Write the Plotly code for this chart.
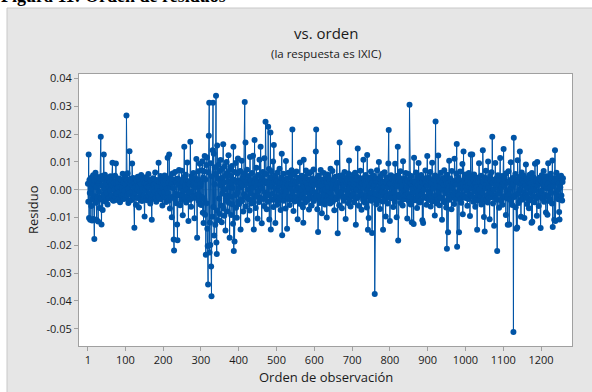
import numpy as np
import plotly.graph_objects as go

res_0001_0100 = [2.1,-4.3,12.7,-10.2,3.5,-1.2,-10.8,4.1,0.4,-5.9,
2.8,-11.1,4.6,-3.3,5.2,-10.5,1.9,-17.7,3.3,-2.4,
6.1,-4.7,0.9,-10.9,3.2,-2.8,4.6,-11.4,2.3,-0.7,
3.1,-6.6,4.0,-3.5,19.0,-2.9,-12.5,4.9,1.4,-7.3,
3.7,-1.8,12.7,-2.1,0.2,5.4,-4.2,2.6,-3.7,3.8,
-1.1,4.2,-5.3,1.6,4.3,-3.0,0.8,-3.1,2.9,-0.3,
4.8,-2.6,2.0,-2.2,3.4,9.7,-3.8,1.3,-4.0,2.5,
0.1,-2.7,5.0,-2.9,9.4,2.4,-1.5,3.3,-3.7,0.6,
2.8,-3.4,4.0,-0.9,2.9,-4.5,1.0,3.6,-2.0,3.6,
-2.4,0.5,5.7,-1.7,2.5,-3.3,4.1,-0.4,4.4,-3.1]

res_0101_0200 = [1.8,-2.6,26.7,3.4,-2.0,5.9,0.3,-4.8,2.7,-1.4,
13.8,2.2,-3.9,3.9,-0.8,3.1,-3.6,9.4,1.5,-2.3,
4.2,-2.7,0.7,-13.7,2.4,-1.0,3.8,-5.4,2.7,3.0,
-2.8,0.0,4.7,-3.0,1.2,-6.4,3.0,-0.6,2.9,-3.6,
2.1,5.3,-1.9,-4.1,3.5,0.4,-2.5,3.7,-2.1,1.7,
-9.6,2.3,-0.2,4.5,-3.2,2.0,-3.8,3.9,0.9,-2.5,
5.6,-2.2,1.1,2.6,-1.3,-5.0,2.8,3.2,-3.5,-10.8,
3.6,0.2,4.1,-2.4,1.9,-3.2,2.0,-0.7,6.2,-3.0,
2.3,-4.3,3.5,0.6,-1.6,3.2,-2.3,9.7,1.4,-2.9,
2.8,-0.5,4.9,-3.4,2.6,-1.1,3.7,-5.7,0.8,3.3]

res_0201_0300 = [-2.2,2.5,-0.9,5.1,-2.8,1.6,3.3,-4.4,0.3,3.9,
-3.1,11.5,-1.2,2.4,-3.9,12.7,3.8,-6.8,1.0,4.3,
-2.7,2.1,-9.9,2.9,5.8,-2.6,0.5,-17.9,-21.9,3.6,
-3.3,6.4,-1.5,3.0,-4.9,2.7,-12.5,-18.2,4.0,1.8,
-2.0,7.1,-2.0,3.4,-5.6,0.7,3.2,-3.7,6.8,-1.8,
2.5,-9.2,2.9,-0.4,4.6,15.4,-3.3,1.3,-2.9,5.4,
-4.6,3.1,0.1,9.8,-2.1,2.2,-11.3,3.0,-1.0,2.0,
-3.6,17.2,2.7,-6.1,4.8,-0.8,3.9,-3.0,1.5,6.0,
-2.4,2.6,-10.3,0.9,4.2,-2.4,2.1,11.0,-3.0,-17.3,
3.4,-1.7,6.6,-4.0,3.5,-2.3,9.3,-5.2,1.2,2.2]

res_0301_0400 = [-5.5,7.0,-2.6,10.2,-8.3,4.4,-12.0,6.5,-3.4,12.1,
-9.0,3.7,-23.4,8.9,-4.9,11.6,-14.0,-20.2,-34.1,6.3,
19.4,31.3,-22.6,-11.8,-19.9,9.5,-27.6,-38.3,4.8,-9.7,
14.2,31.3,-6.2,12.9,-16.5,2.0,8.1,-12.6,5.6,33.8,
-19.0,-23.1,15.9,-7.5,4.0,-10.9,9.0,-3.2,6.7,-8.7,
1.6,10.7,-5.7,3.2,-11.7,7.5,-1.4,4.3,16.3,-6.8,
2.6,-9.4,8.3,0.2,-14.7,5.1,-3.9,10.0,-2.1,6.0,
-7.8,3.0,12.4,-4.7,1.0,-17.3,7.2,-2.5,4.9,-9.1,
2.4,8.5,-5.2,0.6,-12.2,15.4,-22.0,3.6,-18.6,6.4,
-1.9,9.6,-6.5,2.8,-10.1,5.8,-0.9,11.2,-4.3,3.3]

res_0401_0500 = [-5.1,2.7,0.8,6.7,-14.3,2.3,-3.5,10.4,-4.1,1.4,
4.2,-7.8,3.9,-1.6,5.9,31.5,-2.2,17.0,-6.0,2.9,
-2.8,7.2,-11.0,2.1,0.0,4.9,-3.4,3.4,-7.5,11.8,
-1.3,3.3,-5.0,2.0,6.0,-3.8,0.7,12.2,-4.7,-14.3,
2.6,17.9,-2.2,4.1,-6.6,1.7,7.9,-2.5,3.0,-10.4,
5.3,-0.6,2.4,-4.4,10.8,-2.7,1.9,15.4,-3.1,3.6,
-12.1,4.6,0.4,6.4,-3.3,2.5,-5.9,11.3,-1.0,3.0,
24.4,-2.0,5.6,-7.0,2.2,2.8,-4.3,22.6,-2.0,7.4,
-10.7,3.2,4.3,20.6,-14.3,1.1,6.6,-3.6,2.0,-1.5,
10.1,-6.2,16.1,2.7,-3.6,5.0,-12.0,0.5,3.5,-2.6]

res_0501_0600 = [3.1,-5.4,6.2,-0.3,2.6,-3.9,1.3,7.5,-3.0,2.4,
-7.3,4.4,-1.8,12.9,-16.4,2.2,-2.3,5.7,-4.0,0.9,
3.8,-2.1,2.6,-6.8,10.3,-0.7,3.5,-14.0,4.0,1.6,
-3.3,6.1,-2.5,2.3,-5.5,0.3,4.8,-3.4,2.1,7.0,
-2.4,21.6,-1.2,3.1,-7.7,3.0,5.4,-4.2,1.8,-2.6,
2.7,-0.1,6.5,-3.0,2.9,-10.6,4.3,0.6,-3.8,3.4,
-1.4,9.8,-5.1,3.8,0.2,-2.9,5.0,-2.0,2.1,-6.3,
-11.9,10.8,1.2,-3.1,4.6,-4.6,2.7,6.9,-0.8,2.4,
-3.7,1.5,5.8,-3.5,0.4,-7.1,3.6,-1.9,3.4,6.3,
-2.7,2.0,-5.7,4.1,-0.5,2.9,-2.8,7.3,-4.1,1.7]

res_0601_0700 = [-3.2,3.7,-1.0,13.7,21.6,-2.3,3.1,-7.0,4.5,-15.2,
2.3,5.1,-2.4,0.8,-4.8,2.5,7.1,-3.7,1.4,-8.5,
3.2,-0.4,3.7,-3.5,6.0,-1.6,2.8,-5.3,4.0,0.1,
-3.9,2.8,-10.0,2.5,5.5,-2.1,1.0,-3.8,3.9,-0.9,
3.3,-5.0,7.5,-1.3,2.1,-2.6,0.6,6.7,-4.3,2.2,
-2.7,3.5,-7.4,3.9,0.3,4.7,-3.4,1.8,-3.2,9.7,
-0.6,-15.7,2.6,-2.2,4.9,-5.6,17.0,2.6,-2.0,3.0,
-1.1,3.6,-6.7,5.2,0.9,-3.0,2.3,-4.0,1.9,6.4,
-2.5,3.3,-10.5,2.9,-0.2,4.3,-2.8,3.2,-1.5,5.8,
-4.9,10.5,0.5,-3.6,2.7,-6.0,2.1,4.2,-2.0,3.8]

res_0701_0800 = [-2.4,1.1,5.4,-1.7,2.0,-4.5,2.7,6.1,-3.1,-12.6,
3.8,0.0,-3.0,4.6,14.8,-2.6,3.5,-5.8,1.6,3.4,
-0.8,6.8,-2.1,2.4,-7.2,2.2,-1.9,4.1,-3.6,10.8,
0.7,-3.3,2.9,-4.7,2.0,5.3,-2.3,3.0,-6.4,12.5,
-0.3,-14.4,3.6,-10.2,1.3,4.4,-2.5,3.7,-1.2,6.5,
-4.0,2.3,-15.6,2.4,0.8,-2.9,5.1,-3.3,1.7,-37.5,
3.3,-1.4,4.0,-5.2,2.8,7.0,-3.8,0.4,3.2,-3.9,
10.0,-2.0,3.9,-6.9,1.5,4.8,-2.2,2.5,-0.7,5.7,
-4.2,-14.4,2.7,1.0,-3.5,6.3,-1.0,3.0,-9.6,2.6,
4.5,-2.4,3.4,-5.0,0.9,9.4,21.5,-2.9,2.2,-11.3]

res_0801_0900 = [2.1,-1.3,5.2,-3.1,1.9,3.9,-3.0,0.6,-6.2,4.7,
-0.9,3.8,-4.4,9.3,2.0,-2.7,2.6,-9.9,1.2,5.0,
15.4,-18.3,3.1,-1.8,4.3,-2.7,2.4,6.6,-4.8,0.3,
2.9,-3.2,1.6,-5.7,10.2,-0.5,3.5,-3.4,4.1,-2.2,
2.9,6.0,-2.0,0.8,3.5,-10.4,3.3,-1.5,5.6,-4.1,
1.4,30.5,-2.6,2.4,-5.3,2.1,4.9,-11.7,0.2,3.0,
-3.4,3.0,-12.3,11.5,-1.1,2.8,-3.8,2.5,6.2,-2.9,
0.7,-6.6,4.4,1.8,-2.3,9.6,-0.4,3.6,-4.6,2.3,
1.0,-3.7,5.3,-1.6,2.7,-11.0,3.3,-12.0,3.9,0.1,
4.0,-2.9,2.3,6.9,-2.5,2.5,-5.4,1.5,12.1,-3.3]

res_0901_1000 = [2.6,-0.6,4.5,-3.7,3.2,-1.4,6.4,-6.0,1.1,2.7,
-3.0,9.7,-4.2,2.0,0.4,3.8,-2.4,3.4,-9.3,5.1,
24.5,-2.1,2.0,-4.9,1.3,4.6,-3.6,12.3,-0.8,3.1,
-5.6,3.2,0.9,-2.8,6.1,-3.0,2.4,-10.8,2.9,0.0,
4.2,-3.9,1.7,7.0,-4.5,3.7,-1.2,3.6,-6.4,2.2,
-21.2,5.4,-0.3,-15.3,2.3,-3.1,10.4,-3.6,1.5,4.0,
-2.0,3.0,-7.0,6.7,0.6,-2.8,3.1,-1.7,2.8,-5.1,
11.1,-0.9,2.5,-3.3,1.9,5.8,16.4,-20.5,3.6,-1.0,
4.4,-2.0,-15.3,3.4,0.3,6.5,-3.5,2.1,-4.7,2.1,
-1.8,9.2,-8.8,1.0,13.7,-2.4,3.7,-2.6,0.7,5.5]

res_1001_1100 = [-3.0,2.9,-0.2,4.1,-5.8,3.5,1.2,-3.3,6.0,-1.6,
2.6,-9.5,2.3,12.7,-2.1,0.5,4.8,12.7,-2.6,3.9,
-4.3,1.7,5.5,-0.7,2.2,-6.1,2.6,3.9,-3.8,0.9,
-14.4,4.3,-1.9,3.3,-3.9,9.5,0.2,-2.2,2.8,-2.3,
5.0,-5.3,1.4,3.0,-1.1,14.2,-3.5,2.7,-9.8,4.5,
-15.0,3.8,0.4,6.8,-3.4,2.0,-2.0,3.5,-4.6,10.1,
1.0,-3.0,2.4,-10.6,4.7,-0.5,3.2,-2.7,6.3,-1.3,
19.0,2.4,-5.0,2.9,0.1,-13.0,3.6,-2.2,9.6,-2.9,
1.8,4.0,-3.6,-22.0,3.0,5.2,-1.5,2.2,-6.5,3.3,
-0.1,11.4,-3.7,3.6,0.8,-3.9,4.9,-5.4,2.5,2.0]

res_1101_1200 = [14.6,-2.7,1.6,4.4,-2.3,3.1,-9.1,5.9,-0.6,2.5,
-3.2,-12.6,2.8,6.6,-1.8,-12.5,3.1,0.3,-3.4,9.9,
-4.0,3.7,1.1,-5.5,4.2,2.0,-51.2,18.7,-2.6,3.8,
-2.1,5.6,-6.3,3.4,-14.0,2.7,-13.6,10.6,-1.4,2.9,
-4.8,4.6,0.0,13.7,-3.7,2.1,-9.7,1.9,6.2,-2.5,
3.4,-3.5,2.3,5.0,-0.9,-10.2,2.6,1.3,-2.0,9.1,
-2.9,3.5,-5.1,4.0,0.6,-3.2,3.0,-6.7,2.6,5.4,
-1.2,2.3,-3.8,1.0,-11.9,6.0,-11.5,3.9,0.2,4.5,
-2.4,2.1,-4.5,9.3,-0.3,3.2,-3.1,3.7,-9.4,10.0,
1.6,-2.6,2.8,-5.9,2.7,4.3,-1.7,3.6,-13.8,3.2]

res_1201_1258 = [-0.4,5.2,-3.1,2.0,2.4,-3.0,6.7,-4.3,1.4,3.6,
-1.9,3.0,-8.2,4.8,0.5,-2.5,-9.0,2.0,9.5,-2.3,
2.5,-4.1,3.9,0.8,-3.6,5.7,-1.0,3.8,-5.0,10.5,
-13.4,2.2,1.2,4.1,-10.8,2.9,14.2,-11.3,3.3,-1.5,
6.1,-2.8,3.1,-0.2,4.4,-3.4,2.2,-8.0,-10.7,2.9,
0.9,-3.3,5.0,-2.1,3.7,-3.9,2.8,4.1]

y_tickvals = [0.04, 0.03, 0.02, 0.01, 0.00, -0.01, -0.02, -0.03, -0.04, -0.05]
y_ticktext = ["0.04", "0.03", "0.02", "0.01", "0.00", "-0.01", "-0.02", "-0.03", "-0.04", "-0.05"]
x_tickvals = [1, 100, 200, 300, 400, 500, 600, 700, 800, 900, 1000, 1100, 1200]
x_ticktext = [str(v) for v in x_tickvals]

blocks = [res_0001_0100, res_0101_0200, res_0201_0300, res_0301_0400, res_0401_0500,
          res_0501_0600, res_0601_0700, res_0701_0800, res_0801_0900, res_0901_1000,
          res_1001_1100, res_1101_1200, res_1201_1258]
residuo = np.concatenate([np.array(b, dtype=float) for b in blocks]) / 1000.0
orden = np.arange(1, len(residuo) + 1)

W, H = 592, 392
ML, MR, MT, MB = 79, 20, 74, 46
PW, PH = W - ML - MR, H - MT - MB

def px(xp):
    return (xp - ML) / PW

def py(yp):
    return (H - MB - yp) / PH

BLUE = "#0054A6"
FONT = "Open Sans"

fig = go.Figure()
fig.add_trace(go.Scatter(
    x=orden, y=residuo, mode="lines+markers",
    line=dict(color=BLUE, width=1),
    marker=dict(color=BLUE, size=6, line=dict(width=0)),
    hoverinfo="skip", showlegend=False,
))

shapes = [
    dict(type="line", xref="paper", yref="y", x0=0, x1=1, y0=0, y1=0,
         line=dict(color="#BDBDBD", width=1), layer="below"),
    dict(type="rect", xref="paper", yref="paper", x0=px(-5), x1=px(W + 5), y0=py(8), y1=py(-5),
         fillcolor="white", line=dict(width=0), layer="above"),
    dict(type="rect", xref="paper", yref="paper", x0=px(-5), x1=px(7), y0=py(H + 5), y1=py(-5),
         fillcolor="white", line=dict(width=0), layer="above"),
    dict(type="line", xref="paper", yref="paper", x0=px(7), x1=px(W + 5), y0=py(8), y1=py(8),
         line=dict(color="#C8C8C8", width=1), layer="above"),
    dict(type="line", xref="paper", yref="paper", x0=px(7), x1=px(7), y0=py(8), y1=py(H + 5),
         line=dict(color="#C8C8C8", width=1), layer="above"),
]

annotations = [
    dict(text="<b>Figura 11: Orden de residuos</b>", xref="paper", yref="paper",
         x=px(-1), y=py(-4), xanchor="left", yanchor="middle", showarrow=False,
         font=dict(family="Liberation Serif", size=18, color="black")),
    dict(text="vs. orden", xref="paper", yref="paper", x=0.5, y=py(33),
         xanchor="center", yanchor="middle", showarrow=False,
         font=dict(family=FONT, size=15, color="#1a1a1a")),
    dict(text="(la respuesta es IXIC)", xref="paper", yref="paper", x=0.5, y=py(53),
         xanchor="center", yanchor="middle", showarrow=False,
         font=dict(family=FONT, size=11.5, color="#1a1a1a")),
    dict(text="Residuo", xref="paper", yref="paper", x=px(33), y=0.5, textangle=-90,
         xanchor="center", yanchor="middle", showarrow=False,
         font=dict(family=FONT, size=13, color="#1a1a1a")),
    dict(text="Orden de observación", xref="paper", yref="paper", x=0.5, y=py(377),
         xanchor="center", yanchor="middle", showarrow=False,
         font=dict(family=FONT, size=13, color="#1a1a1a")),
]

axis_common = dict(showgrid=False, zeroline=False, showline=True, mirror=True,
                   linecolor="#A0A0A0", linewidth=1, ticks="outside", ticklen=4,
                   tickcolor="#A0A0A0", tickfont=dict(family=FONT, size=11, color="#1a1a1a"))

fig.update_layout(
    width=W, height=H, autosize=False,
    margin=dict(l=ML, r=MR, t=MT, b=MB, pad=0),
    paper_bgcolor="#E6E6E6", plot_bgcolor="white",
    xaxis=dict(range=[-22.6, 1282], tickvals=x_tickvals, ticktext=x_ticktext, **axis_common),
    yaxis=dict(range=[-0.0562, 0.0416], tickvals=y_tickvals, ticktext=y_ticktext, **axis_common),
    shapes=shapes, annotations=annotations,
)

fig.write_html("out.html", config={"displayModeBar": False},
               post_script="document.body.style.margin='0';document.body.style.padding='0';")
